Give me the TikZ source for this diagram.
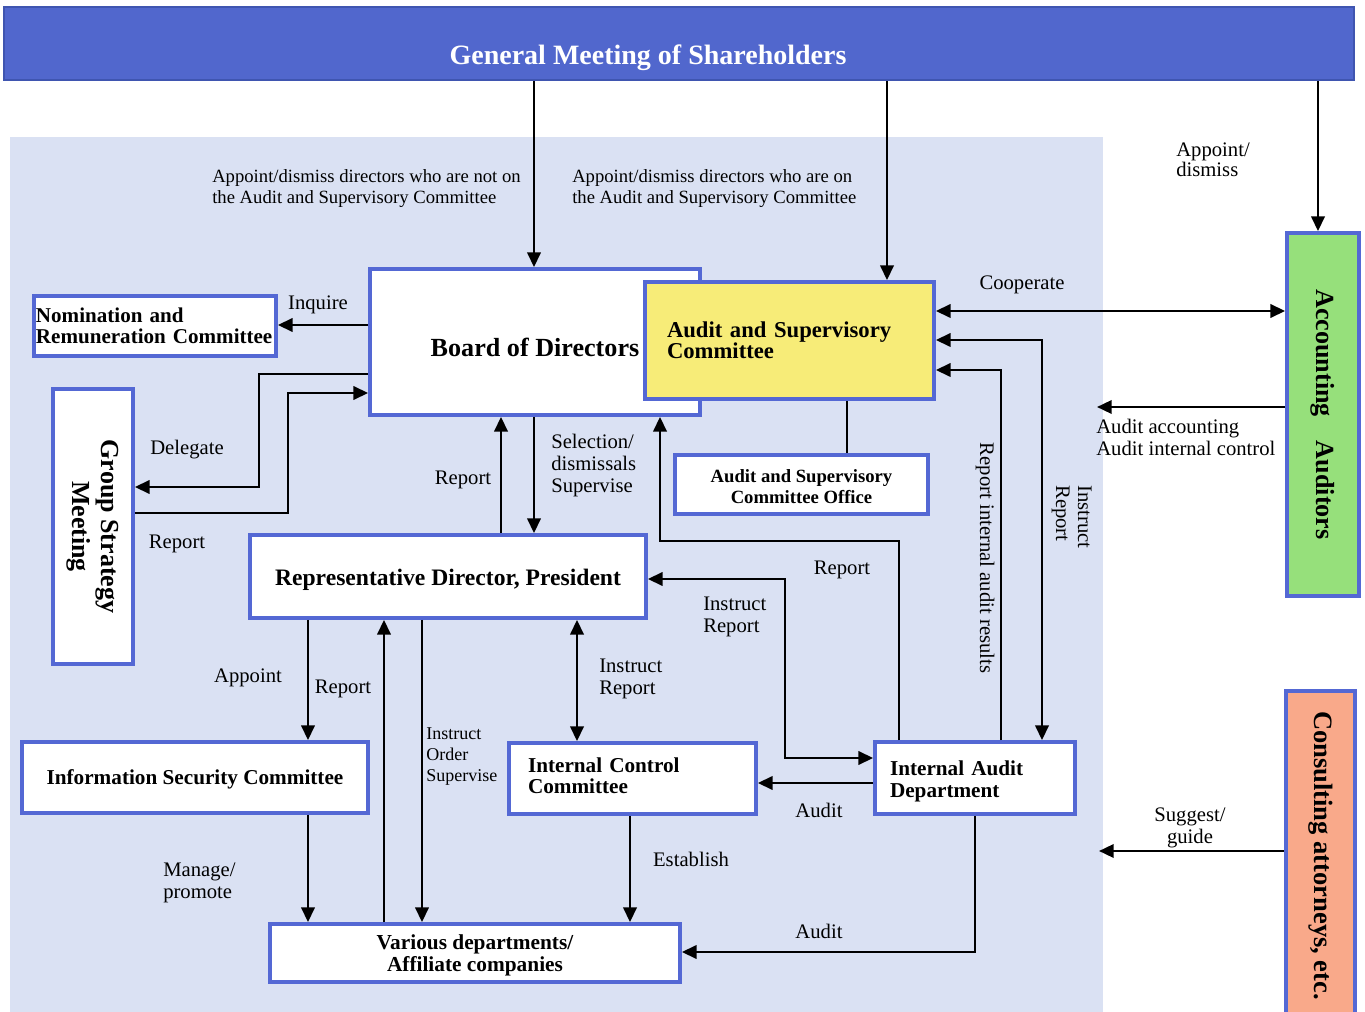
\documentclass[tikz,border=0pt]{standalone}
\usepackage{fontspec}
\setmainfont{Liberation Serif}
\usepackage{graphicx}
\usetikzlibrary{arrows.meta}
\definecolor{bannerfill}{HTML}{5167CD}
\definecolor{bannerline}{HTML}{3F55B0}
\definecolor{bgblue}{HTML}{DAE1F3}
\definecolor{boxblue}{HTML}{5468D4}
\definecolor{auditylw}{HTML}{F7EC78}
\definecolor{accgreen}{HTML}{96E07B}
\definecolor{conssal}{HTML}{F9A98A}
\newcommand{\lowr}[2]{\raisebox{-#1}[\height][\depth]{#2}}
\begin{document}
\begin{tikzpicture}[x=0.75pt,y=-0.75pt,
  box/.style={draw=boxblue,line width=2.8pt,fill=white,inner sep=0pt,align=center},
  arr/.style={line width=1.8pt,-{Triangle[length=11pt,width=10pt]}},
  darr/.style={line width=1.8pt,{Triangle[length=11pt,width=10pt]}-{Triangle[length=11pt,width=10pt]}},
  thinln/.style={line width=1.1pt},
  lbl/.style={inner sep=0pt,align=left,yshift=-2pt,font=\fontsize{15.5}{16.5}\selectfont},
  lblc/.style={inner sep=0pt,align=center,yshift=-2pt,font=\fontsize{15.5}{16.5}\selectfont},
  rlbl/.style={inner sep=0pt,align=left,font=\fontsize{15.5}{16.5}\selectfont},
  toplbl/.style={inner sep=0pt,align=left,yshift=-1.5pt,font=\fontsize{14}{15.75}\selectfont},
  smalllbl/.style={inner sep=0pt,align=left,yshift=-2pt,font=\fontsize{13.5}{15.75}\selectfont}
]
\useasboundingbox (0,0) rectangle (1365,1012);
\fill[white] (0,0) rectangle (1365,1012);
\fill[bgblue] (10,137) rectangle (1103,1012);

% banner
\node[draw=bannerline,fill=bannerfill,line width=1.5pt,inner sep=0pt,minimum width=1012.5pt,minimum height=54.75pt] (banner) at (679,43.5) {};
\node[font=\bfseries\fontsize{21}{21}\selectfont,text=white,inner sep=0pt] (bannertxt) at (648,57.5) {General Meeting of Shareholders};

% boxes
\node[box,minimum width=247.5pt,minimum height=109.5pt,font=\bfseries\fontsize{19.6}{20}\selectfont] (board) at (535,342) {\lowr{3.75pt}{Board of Directors}};
\node[box,fill=auditylw,minimum height=87.75pt,text width=183.75pt,inner xsep=16.5pt,align=left,font=\bfseries\fontsize{17}{15.75}\selectfont] (audit) at (789.5,340.5) {Audit and Supervisory\\Committee};
\node[box,minimum height=45pt,text width=178.5pt,inner xsep=1.5pt,align=left,font=\bfseries\fontsize{15.8}{15.75}\selectfont] (nom) at (155,326) {Nomination and\\Remuneration Committee};
\node[box,minimum width=60pt,minimum height=206.25pt] (gsm) at (93,526.5) {\rotatebox{-90}{\bfseries\fontsize{19.5}{22.5}\selectfont\begin{tabular}{@{}c@{}}Group Strategy\\Meeting\end{tabular}}};
\node[box,minimum width=189.75pt,minimum height=44.25pt,font=\bfseries\fontsize{14}{15.75}\selectfont] (office) at (801.5,484.5) {\lowr{3pt}{\begin{tabular}{@{}c@{}}Audit and Supervisory\\Committee Office\end{tabular}}};
\node[box,minimum width=297pt,minimum height=62.25pt,font=\bfseries\fontsize{17.7}{18}\selectfont] (rep) at (448,576.5) {\lowr{2.25pt}{Representative Director, President}};
\node[box,minimum width=259.5pt,minimum height=53.25pt,font=\bfseries\fontsize{15.9}{16}\selectfont] (isc) at (195,777.5) {\lowr{1.5pt}{Information Security Committee}};
\node[box,minimum height=53.25pt,text width=156.75pt,inner xsep=14.25pt,align=left,font=\bfseries\fontsize{15.9}{15.75}\selectfont] (icc) at (632.5,778.5) {\lowr{0pt}{\begin{tabular}{@{}l@{}}Internal Control\\Committee\end{tabular}}};
\node[box,minimum height=54pt,text width=127.5pt,inner xsep=11.25pt,align=left,font=\bfseries\fontsize{15.9}{16.5}\selectfont] (iad) at (975,778) {\lowr{3pt}{\begin{tabular}{@{}l@{}}Internal Audit\\Department\end{tabular}}};
\node[box,minimum width=307.5pt,minimum height=43.5pt,font=\bfseries\fontsize{16}{16.5}\selectfont] (var) at (475,953) {\lowr{2.25pt}{\begin{tabular}{@{}c@{}}Various departments/\\Affiliate companies\end{tabular}}};
\node[box,fill=accgreen,minimum width=54pt,minimum height=272.25pt] (acc) at (1323,414.5) {\rotatebox{-90}{\bfseries\fontsize{19.6}{20}\selectfont Accounting\hspace{18pt}Auditors}};
\node[box,fill=conssal,minimum width=51.75pt,minimum height=246.75pt] (cons) at (1320.5,855.5) {\rotatebox{-90}{\bfseries\fontsize{19.9}{20}\selectfont Consulting attorneys, etc.}};

\coordinate (accEnd) at (1097,407);
\coordinate (consEnd) at (1099,851);

% connectors
\draw[arr] (banner.south -| 534,0) -- (board.north -| 534,0);
\draw[arr] (banner.south -| 887,0) -- (audit.north -| 887,0);
\draw[arr] (banner.south -| 1318,0) -- (acc.north -| 1318,0);
\draw[arr] (board.west |- 0,325) -- (nom.east |- 0,325);
\draw[arr] (board.west |- 0,374) -| (259,487) -- (gsm.east |- 0,487);
\draw[arr] (gsm.east |- 0,513) -| (288,393) -- (board.west |- 0,393);
\draw[arr] (rep.north -| 501,0) -- (board.south -| 501,0);
\draw[arr] (board.south -| 534,0) -- (rep.north -| 534,0);
\draw[arr] (iad.north -| 899,0) |- (660,541) -- (board.south -| 660,0);
\draw[darr] (audit.east |- 0,311) -- (acc.west |- 0,311);
\draw[darr] (audit.east |- 0,340) -| (iad.north -| 1042,0);
\draw[arr] (iad.north -| 1001,0) |- (audit.east |- 0,370);
\draw[arr] (acc.west |- 0,407) -- (accEnd);
\draw[thinln] (audit.south -| 847,0) -- (office.north -| 847,0);
\draw[darr] (rep.east |- 0,579) -| (785,758) -- (iad.west |- 0,758);
\draw[darr] (rep.south -| 577,0) -- (icc.north -| 577,0);
\draw[arr] (rep.south -| 308,0) -- (isc.north -| 308,0);
\draw[arr] (var.north -| 384,0) -- (rep.south -| 384,0);
\draw[arr] (rep.south -| 422,0) -- (var.north -| 422,0);
\draw[arr] (isc.south -| 308,0) -- (var.north -| 308,0);
\draw[arr] (icc.south -| 630,0) -- (var.north -| 630,0);
\draw[arr] (iad.west |- 0,783) -- (icc.east |- 0,783);
\draw[arr] (iad.south -| 975,0) |- (var.east |- 0,952);
\draw[arr] (cons.west |- 0,851) -- (consEnd);

% labels
\node[toplbl,anchor=west] (l1) at (212,187) {Appoint/dismiss directors who are not on\\the Audit and Supervisory Committee};
\node[toplbl,anchor=west] (l2) at (572,187) {Appoint/dismiss directors who are on\\the Audit and Supervisory Committee};
\node[lbl,anchor=west,font=\fontsize{15.5}{15}\selectfont] (l3) at (1176,157) {Appoint/\\dismiss};
\node[lbl] (l4) at (1022,282) {Cooperate};
\node[lbl] (l5) at (318,302) {Inquire};
\node[lbl] (l6) at (187,447) {Delegate};
\node[lbl] (l7) at (177,541) {Report};
\node[lbl] (l8) at (463,477) {Report};
\node[lbl,anchor=west] (l9) at (551,463) {Selection/\\dismissals\\Supervise};
\node[lbl] (l10) at (842,567) {Report};
\node[lbl,anchor=west] (l11) at (703,614) {Instruct\\Report};
\node[lbl,anchor=west] (l12) at (599,676) {Instruct\\Report};
\node[lbl] (l13) at (248,675) {Appoint};
\node[lbl] (l14) at (343,686) {Report};
\node[smalllbl,anchor=west] (l15) at (426,754) {Instruct\\Order\\Supervise};
\node[lbl,anchor=west] (l16) at (163,880) {Manage/\\promote};
\node[lbl] (l17) at (691,857) {Establish};
\node[lbl] (l18) at (819,808) {Audit};
\node[lbl] (l19) at (819,929) {Audit};
\node[lbl,anchor=west] (l20) at (1096,435) {Audit accounting\\Audit internal control};
\node[lblc] (l21) at (1190,825) {Suggest/\\guide};
\node[rlbl,rotate=-90] (l22) at (985,558) {Report internal audit results};
\node[rlbl,rotate=-90,anchor=north west] (l23) at (1092,485) {Instruct\\Report};
\end{tikzpicture}
\end{document}
